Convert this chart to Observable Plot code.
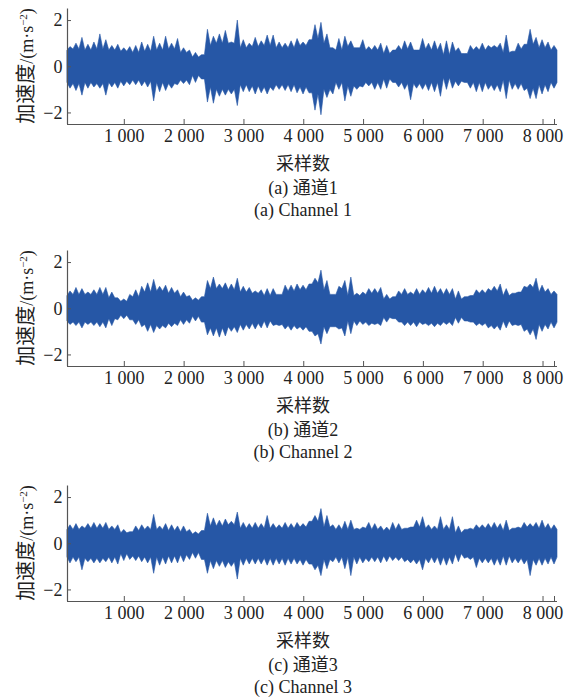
<!DOCTYPE html>
<html><head><meta charset="utf-8">
<script src="https://cdn.jsdelivr.net/npm/d3@7"></script>
<script src="https://cdn.jsdelivr.net/npm/@observablehq/plot@0.6"></script>
<style>
body{margin:0;background:#fff;width:576px;height:700px;position:relative;overflow:hidden}
.panel{position:absolute;left:0;width:576px;height:230px}
.panel svg{position:absolute;left:0;top:0}
.ylab{position:absolute;left:25px;top:66px;transform:translate(-50%,-50%) rotate(-90deg);white-space:nowrap;font-family:"Noto Sans CJK SC","Liberation Serif",serif;font-size:20px;color:#222;line-height:1}
.ylab .lat{font-family:"Liberation Serif",serif;font-size:18px}
.ylab sup{font-size:11px;vertical-align:6px;line-height:0}
.cap{position:absolute;left:0;width:606px;text-align:center;font-family:"Liberation Serif","Noto Sans CJK SC",serif;font-size:18px;color:#222;line-height:1;transform:translateY(-50%)}
.xl{font-family:"Noto Sans CJK SC",serif;font-size:18px}
</style>
</head><body>
<script>
// Sample axis and tick labels
const xTicks = [1000, 2000, 3000, 4000, 5000, 6000, 7000, 8000, 8192];
const yTicks = [-2, 0, 2];
const xLabel = "采样数";
const captionsCN = ["(a) 通道1", "(b) 通道2", "(c) 通道3"];
const captionsEN = ["(a) Channel 1", "(b) Channel 2", "(c) Channel 3"];

// Spike peaks per ~100-sample block (m/s^2)
const ch1Upper = [0.85,1.0,1.25,0.95,1.05,1.4,1.15,0.9,0.95,0.8,0.85,0.9,1.05,0.95,1.3,1.0,1.3,1.0,1.2,0.8,0.7,0.6,0.5,1.6,1.3,1.4,1.55,1.05,2.0,1.15,1.0,1.25,1.1,1.35,1.35,1.05,1.0,1.1,1.2,1.05,1.15,
  1.8,1.9,1.4,0.8,1.2,1.3,1.1,0.8,1.15,0.85,0.9,1.0,0.9,0.7,0.9,1.1,1.05,0.7,1.2,1.0,1.1,1.0,1.1,1.05,0.8,0.55,0.9,0.85,1.0,0.9,0.9,1.0,1.35,0.65,1.0,0.95,1.6,1.25,1.15,1.05,0.9];
const ch1Lower = [-0.95,-1.05,-1.25,-0.95,-0.9,-0.95,-1.25,-0.9,-0.95,-0.85,-0.8,-0.8,-0.85,-0.9,-1.5,-1.1,-1.05,-0.95,-0.8,-0.75,-0.8,-0.7,-0.55,-1.55,-1.6,-1.3,-1.25,-1.2,-1.7,-1.1,-1.1,-1.2,-1.15,-1.2,-1.05,-1.0,-1.05,-1.1,-1.15,-1.2,-1.15,
  -1.9,-2.1,-1.35,-1.2,-1.0,-1.5,-1.3,-1.0,-0.9,-0.85,-1.0,-1.0,-0.95,-0.7,-0.9,-1.0,-1.45,-0.95,-1.0,-1.05,-1.1,-1.3,-1.0,-0.95,-0.85,-0.7,-0.95,-1.1,-1.1,-1.0,-1.05,-1.1,-1.4,-1.0,-1.0,-1.05,-1.4,-1.4,-1.2,-1.1,-0.95];
const ch2Upper = [0.75,0.9,0.85,0.7,0.8,0.9,0.9,0.7,0.45,0.4,0.6,0.8,0.95,1.1,1.25,0.95,1.0,0.9,0.8,0.7,0.55,0.45,0.5,1.2,1.35,1.05,1.1,1.05,1.3,0.95,0.9,0.75,0.8,0.85,0.85,0.6,1.0,1.0,1.05,1.0,1.05,
  1.3,1.65,1.2,0.6,0.95,1.2,1.35,0.65,0.7,0.85,0.85,0.9,0.6,0.5,0.75,0.85,0.7,0.85,0.8,0.9,0.95,0.85,0.85,0.85,0.75,0.5,0.55,0.8,0.8,0.85,0.95,1.05,0.85,0.65,0.7,0.95,1.05,1.3,1.0,0.85,0.75];
const ch2Lower = [-0.7,-0.75,-0.85,-0.7,-0.75,-0.8,-0.85,-0.75,-0.5,-0.45,-0.5,-0.7,-0.8,-1.0,-1.05,-0.9,-0.85,-0.8,-0.75,-0.7,-0.65,-0.55,-0.6,-1.15,-1.2,-1.25,-1.2,-1.0,-1.05,-0.95,-0.9,-0.9,-0.85,-0.85,-0.75,-0.75,-0.9,-0.95,-0.9,-0.95,-1.0,
  -1.2,-1.55,-1.1,-0.8,-0.9,-1.2,-1.1,-0.75,-0.7,-0.75,-0.7,-0.75,-0.6,-0.45,-0.6,-0.75,-0.75,-0.8,-0.7,-0.75,-0.8,-0.75,-0.7,-0.75,-0.65,-0.55,-0.6,-0.75,-0.75,-0.85,-0.9,-0.95,-0.85,-0.75,-0.75,-1.0,-1.15,-1.35,-1.0,-0.9,-0.85];
const ch3Upper = [0.8,0.85,0.75,0.85,0.9,0.85,0.9,0.75,0.8,0.6,0.5,0.75,0.8,0.75,1.25,0.75,0.85,0.8,0.75,0.75,0.6,0.5,0.55,1.3,1.1,1.0,1.05,0.95,1.35,0.9,0.85,0.9,0.85,1.2,0.85,0.8,0.9,0.85,0.9,0.85,0.95,
  1.2,1.5,1.2,0.8,0.8,0.95,1.0,0.65,0.7,0.9,0.85,0.75,0.7,0.9,0.85,0.65,0.7,1.0,1.15,0.8,0.75,1.15,0.8,1.15,0.75,0.6,0.65,0.8,0.8,0.85,0.9,0.85,1.0,0.65,0.7,0.9,0.85,0.9,1.0,0.85,0.8];
const ch3Lower = [-0.85,-0.8,-1.15,-0.8,-0.85,-0.85,-0.8,-0.85,-0.9,-0.75,-0.7,-0.75,-0.8,-0.85,-1.3,-0.95,-0.9,-0.85,-0.85,-0.8,-0.7,-0.65,-0.7,-1.3,-1.1,-1.0,-1.05,-1.0,-1.55,-0.95,-0.9,-0.9,-0.9,-0.95,-0.95,-0.9,-0.95,-0.9,-0.9,-0.95,-0.9,
  -1.15,-1.4,-1.1,-0.8,-0.85,-1.1,-1.4,-0.9,-0.85,-0.8,-0.8,-0.85,-0.8,-0.75,-0.75,-0.8,-0.85,-0.9,-1.15,-0.85,-0.85,-0.95,-0.95,-0.9,-0.8,-0.65,-0.7,-1.05,-0.85,-0.85,-0.95,-0.95,-0.95,-0.85,-0.85,-0.9,-1.4,-0.95,-0.95,-0.9,-0.9];

// Amplitude of the dense (solid) band per ~200-sample block
const ch1Core = [0.7,0.75,0.7,0.75,0.7,0.65,0.6,0.65,0.7,0.75,0.6,0.4,0.9,1.0,1.0,0.8,0.85,0.9,0.8,0.8,0.9,1.2,1.0,0.7,0.85,0.7,0.7,0.55,0.7,0.75,0.75,0.7,0.5,0.65,0.7,0.7,0.8,0.6,0.75,0.95,0.8,0.7];
const ch2Core = [0.55,0.6,0.6,0.6,0.45,0.3,0.5,0.7,0.75,0.65,0.5,0.35,0.85,0.85,0.8,0.7,0.65,0.55,0.7,0.75,0.8,1.1,0.8,0.85,0.55,0.6,0.65,0.4,0.6,0.6,0.65,0.65,0.6,0.4,0.6,0.65,0.75,0.55,0.7,0.9,0.7,0.6];
const ch3Core = [0.6,0.6,0.65,0.65,0.6,0.45,0.55,0.6,0.6,0.55,0.5,0.4,0.75,0.75,0.8,0.65,0.65,0.65,0.65,0.65,0.7,0.95,0.7,0.6,0.6,0.65,0.6,0.55,0.6,0.7,0.65,0.6,0.6,0.45,0.6,0.65,0.65,0.55,0.65,0.7,0.65,0.6];

const channels = [[ch1Upper, ch1Lower, ch1Core], [ch2Upper, ch2Lower, ch2Core], [ch3Upper, ch3Lower, ch3Core]];
const panelTops = [0, 242, 477];
const N = 8192;
const blue = "#2657a6";

const fmtX = d => d === N ? "" : d3.format(",")(d).replace(",", " ");
const fmtY = d => d < 0 ? "\u2212" + Math.abs(d) : String(d);

// Outline: a peak at the centre of each block, the dense-band level at block edges
function outline(up, lo, core) {
  const bw = N / up.length, cw = N / (core.length - 1);
  const coreAt = x => core[Math.round(x / cw)];
  const pts = [];
  up.forEach((u, k) => {
    const x0 = k * bw, c = coreAt(x0);
    const pu = k > 0 ? up[k - 1] : u, pl = k > 0 ? lo[k - 1] : lo[k];
    pts.push({x: x0, hi: Math.min(c, u, pu), lo: Math.max(-c, lo[k], pl)});
    pts.push({x: x0 + bw / 2, hi: u, lo: lo[k]});
  });
  const c = coreAt(N);
  pts.push({x: N, hi: Math.min(c, up[up.length - 1]), lo: Math.max(-c, lo[lo.length - 1])});
  return pts;
}

channels.forEach(([up, lo, core], i) => {
  const sig = outline(up, lo, core);
  const div = document.createElement("div");
  div.className = "panel";
  div.style.top = panelTops[i] + "px";
  const svg = Plot.plot({
    width: 576, height: 175,
    marginLeft: 67, marginRight: 19, marginTop: 8.5, marginBottom: 51,
    x: {domain: [0, N]},
    y: {domain: [-2.5, 2.5]},
    style: {fontFamily: "'Liberation Serif', serif", fontSize: "18px", color: "#222", background: "transparent", overflow: "visible"},
    marks: [
      Plot.areaY(sig, {x: "x", y1: "lo", y2: "hi", fill: blue, stroke: blue, strokeWidth: 0.6, curve: "linear"}),
      Plot.axisY({ticks: yTicks, tickSize: -4, tickPadding: 9, tickFormat: fmtY, label: null, stroke: "#555"}),
      Plot.axisX({ticks: xTicks, tickSize: -5, tickPadding: 10, tickFormat: fmtX, label: null, stroke: "#555", dx: -3}),
      Plot.ruleX([0], {stroke: "#555", strokeWidth: 1.2}),
      Plot.ruleY([-2.5], {stroke: "#555", strokeWidth: 1.2})
    ]
  });
  div.appendChild(svg);
  const yl = document.createElement("div");
  yl.className = "ylab";
  yl.innerHTML = '加速度<span class="lat">/(m·s<sup>\u22122</sup>)</span>';
  div.appendChild(yl);
  const addCap = (txt, y, cls) => {
    const c = document.createElement("div");
    c.className = "cap" + (cls ? " " + cls : "");
    c.style.top = y + "px";
    c.textContent = txt;
    div.appendChild(c);
  };
  addCap(xLabel, 162, "xl");
  addCap(captionsCN[i], 188, "");
  addCap(captionsEN[i], 210, "");
  document.body.appendChild(div);
});
</script>
</body></html>
